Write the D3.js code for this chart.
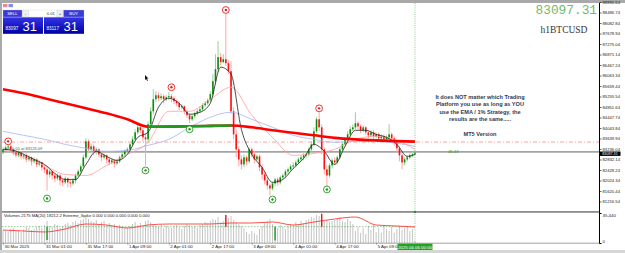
<!DOCTYPE html>
<html>
<head>
<meta charset="utf-8">
<script src="https://cdn.jsdelivr.net/npm/d3@7"></script>
<style>
body { margin: 0; background: #fff; }
svg { display: block; font-family: Arial, "Liberation Sans", sans-serif; }
</style>
</head>
<body>
<svg id="chart" width="625" height="253"></svg>
<script>
// H1 BTCUSD bars, 30 Mar 09:00 -> 6 Apr 00:00
var opens = [83106,83222,83299,83338,83222,83106,82991,83106,82952,82991,
  82836,82914,82759,82836,82644,82721,82528,82451,82258,82374,
  82219,82104,82219,82027,81950,82104,81950,81911,82027,82219,
  82374,82566,82914,83531,83222,83338,83145,83222,83029,82914,
  82991,82836,82721,82798,82682,82759,82914,83029,83145,83222,
  83415,83608,83877,84070,83955,83685,83608,84186,84687,85150,
  85304,85189,85266,85150,85227,85266,85189,85073,84996,84842,
  84880,84687,84533,84379,84495,84610,84687,84764,84919,84996,
  85111,85343,85844,86307,86770,86577,86692,86538,86230,84687,
  83800,83222,82836,82644,82914,82759,83222,83029,82836,82952,
  82528,82258,82027,81834,81718,81911,82065,81950,82142,82219,
  82374,82451,82566,82605,82721,82836,82914,82991,83029,83222,
  83415,83916,84379,84070,83222,82451,82219,82605,82798,82721,
  82914,83222,83415,83608,83800,83993,84070,84225,84109,83955,
  84070,83877,83762,83877,83723,83800,83646,83723,83608,83685,
  83800,83646,83492,83261,82991,82721,82836,82914,82991,83029];
var closes = [83222,83299,83338,83222,83106,82991,83106,82952,82991,82836,
  82914,82759,82836,82644,82721,82528,82451,82258,82374,82219,
  82104,82219,82027,81950,82104,81950,81911,82027,82219,82374,
  82566,82914,83531,83222,83338,83145,83222,83029,82914,82991,
  82836,82721,82798,82682,82759,82914,83029,83145,83222,83415,
  83608,83877,84070,83955,83685,83608,84186,84687,85150,85304,
  85189,85266,85150,85227,85266,85189,85073,84996,84842,84880,
  84687,84533,84379,84495,84610,84687,84764,84919,84996,85111,
  85343,85844,86307,86770,86577,86692,86538,86230,84687,83800,
  83222,82836,82644,82914,82759,83222,83029,82836,82952,82528,
  82258,82027,81834,81718,81911,82065,81950,82142,82219,82374,
  82451,82566,82605,82721,82836,82914,82991,83029,83222,83415,
  83916,84379,84070,83222,82451,82219,82605,82798,82721,82914,
  83222,83415,83608,83800,83993,84070,84225,84109,83955,84070,
  83877,83762,83877,83723,83800,83646,83723,83608,83685,83800,
  83646,83492,83261,82991,82721,82836,82914,82991,83029,83097];
var highs = [83299,83376,83415,83415,83261,83183,83183,83145,83068,83068,
  82991,82952,82914,82875,82798,82759,82605,82528,82451,82412,
  82297,82297,82258,82104,82181,82142,82027,82104,82297,82451,
  82644,83029,83646,83608,83453,83415,83299,83261,83106,83068,
  83029,82914,82875,82836,82836,82991,83106,83222,83299,83492,
  83723,83993,84147,84147,84032,83839,84302,84842,85536,85459,
  85420,85381,85343,85304,85420,85343,85266,85150,85073,84957,
  84919,84764,84610,84572,84687,84764,84880,84996,85073,85189,
  85459,86114,86885,87387,86924,86885,88428,86654,86615,84842,
  83993,83338,82991,83029,82991,83299,83299,83145,83029,83029,
  82644,82374,82142,81911,81988,82142,82142,82219,82297,82451,
  82528,82644,82721,82798,82914,82991,83068,83145,83299,83531,
  84070,84456,84649,84186,83299,82605,82682,82875,82914,82991,
  83299,83492,83685,83916,84109,84186,84649,84302,84186,84147,
  84109,83955,83955,83955,83877,83877,83800,83800,83762,84186,
  83877,83723,83569,83338,83068,82914,82991,83068,83106,83183];
var lows = [83029,83145,83183,83145,82991,82914,82914,82836,82836,82721,
  82759,82605,82682,82528,82566,82412,82297,81641,82142,82065,
  81950,82027,81834,81795,81872,81757,81757,81834,81911,82142,
  82258,82489,82836,83106,83145,82991,83029,82914,82759,82836,
  82682,82605,82644,82528,82605,82682,82836,82952,83068,83145,
  83338,83531,83800,83839,83531,82605,83531,84109,84572,85034,
  85073,85111,84996,85073,85111,85034,84957,84880,84726,84764,
  84572,84417,84225,84302,84417,84533,84610,84687,84842,84919,
  85034,85266,85728,86191,86461,86538,86423,86114,84572,83608,
  82914,82566,82451,82528,82605,82682,82914,82682,82759,82374,
  82065,81872,81680,81448,81641,81795,81834,81872,82065,82104,
  82258,82374,82451,82528,82644,82759,82798,82875,82952,83145,
  83338,83839,83916,83029,82258,81795,82142,82489,82605,82644,
  82836,83145,83338,83531,83723,83916,83993,83993,83839,83877,
  83762,83646,83685,83608,83646,83531,83569,83492,83531,83608,
  83531,83376,83106,82759,82451,82605,82759,82836,82914,82991];
var volumes = [15400,14200,13000,16500,17700,14200,15400,13000,16500,18900,17700,15400,16500,18900,20100,17700,
  21300,26000,20100,18900,22400,21300,17700,20100,22400,23600,21300,24800,26000,23600,27200,28400,
  30700,28400,26000,24800,27200,22400,24800,26000,21300,23600,20100,22400,18900,21300,20100,17700,
  18900,20100,22400,24800,21300,23600,20100,26000,27200,24800,22400,20100,18900,21300,17700,20100,
  18900,17700,20100,21300,18900,16500,20100,22400,21300,18900,20100,17700,21300,22400,24800,23600,
  26000,28400,27200,30700,24800,26000,33000,29500,31900,27200,24800,22400,20100,17700,13000,10600,
  14200,11800,9400,16500,20100,24800,26000,28400,22400,20100,17700,21300,18900,16500,20100,22400,
  21300,24800,22400,26000,23600,27200,28400,30700,29500,33000,31900,28400,26000,27200,24800,26000,
  27200,28400,30700,26000,24800,28400,26000,22400,14200,18900,11800,17700,10600,20100,15400,21300,
  13000,17700,12000,20100,16500,14200,18900,12000,16500,20100,15400,17700,19900,14200,16500,2175];

// moving averages, read every 8 bars (black one every 4)
var maIdx = [0,8,16,24,32,40,48,56,64,72,80,88,96,104,112,120,128,136,144,152,159];
var emaSlow = [85536,85381,85189,84996,84803,84610,84379,84090,84097,84109,84124,84140,84070,83955,83858,83762,83665,83608,83569,83538,83519];
var emaBlue = [83916,83762,83608,83415,83261,83145,83183,83376,83608,84070,84456,84649,84379,84070,83762,83608,83492,83531,83531,83453,83338];
var emaPink = [83222,82914,82605,82258,82219,82605,83029,83492,84687,84687,85150,85613,84533,83685,82991,83068,83222,83608,83723,83569,83222];
var fastIdx = [0,4,8,12,16,20,24,28,32,36,40,44,48,52,56,60,64,68,72,76,80,84,88,92,96,100,104,108,112,116,120,124,128,132,136,140,144,148,152,156,159];
var emaFast = [83222,83183,83029,82836,82644,82297,82065,82065,82644,83145,82952,82798,83029,83685,83877,84842,85189,84996,84572,84649,84996,86384,86114,83993,83029,82528,81950,82065,82489,82875,83415,83145,82644,83338,83955,83955,83800,83685,83415,82952,83029];
var volMA = [15357,14176,13000,16540,22445,21263,17720,21263,22445,22445,22445,23626,23626,24807,21263,24807,28351,30714,21263,20082,18901];

// signal circles
var sellIdx = [2, 65, 86, 122];
var sellPrice = [83531, 85613, 88582, 84800];
var buyIdx = [17, 55, 72, 104, 125];
var buyPrice = [81333, 82412, 83993, 81294, 81680];

// extreme volume spikes
var spikeIdx = [17, 86, 105, 123];
var spikeVal = [3500, 33000, 3000, 34500];
var spikeLevel = 19300;

var priceTicks = [88890.64,88486.74,88082.84,87678.94,87275.04,86871.14,86467.24,86063.34,85659.44,85255.54,
  84851.64,84447.74,84043.84,83639.94,83236.04,82832.14,82428.24,82024.34,81620.44,81216.54];
var timeIdx = [0,16,32,48,64,80,96,112,128,144];
var timeLabels = ["30 Mar 2025","31 Mar 01:00","31 Mar 17:00","1 Apr 09:00","2 Apr 01:00","2 Apr 17:00","3 Apr 09:00","4 Apr 01:00","4 Apr 17:00","5 Apr 09:00"];
var bid = 83097.31, linePrice = 83123.09, alertPrice = 83503;

var svg = d3.select("#chart");
var x = d3.scaleLinear().domain([0, 159]).range([3, 415]);
var y = d3.scaleLinear().domain([81216.54, 88890.64]).range([201.5, 2]);
var yv = d3.scaleLinear().domain([0, 35440]).range([243, 213]);

svg.append("defs").append("clipPath").attr("id", "mainClip")
  .append("rect").attr("x", 2).attr("y", 3).attr("width", 597).attr("height", 208);
var grad = svg.select("defs").append("linearGradient").attr("id", "blueGrad")
  .attr("x1", 0).attr("y1", 0).attr("x2", 0).attr("y2", 1);
grad.append("stop").attr("offset", "0").attr("stop-color", "#3434e8");
grad.append("stop").attr("offset", "1").attr("stop-color", "#0000a4");

var main = svg.append("g").attr("clip-path", "url(#mainClip)");

// level lines
main.append("line").attr("x1", 2).attr("x2", 599).attr("y1", y(alertPrice)).attr("y2", y(alertPrice))
  .attr("stroke", "#ff8a8a").attr("stroke-width", 0.8).attr("stroke-dasharray", "4,2,1,2");
main.append("line").attr("x1", 2).attr("x2", 599).attr("y1", y(linePrice)).attr("y2", y(linePrice))
  .attr("stroke", "#a4a4a4").attr("stroke-width", 1.8);
main.append("text").attr("x", 5).attr("y", y(linePrice) - 1.5).attr("font-size", 4).attr("fill", "#555")
  .text("sell 0.01 at 83123.09");
main.append("text").attr("x", 448).attr("y", y(linePrice) + 1.5).attr("font-size", 4.2).attr("fill", "#2a9a2a")
  .text("45.43");

// candles
var bars = d3.range(closes.length);
main.selectAll("line.wick").data(bars).enter().append("line").attr("class", "wick")
  .attr("x1", function (i) { return x(i); }).attr("x2", function (i) { return x(i); })
  .attr("y1", function (i) { return y(highs[i]); }).attr("y2", function (i) { return y(lows[i]); })
  .attr("stroke", function (i) { return closes[i] >= opens[i] ? "#93d493" : "#ffa6a6"; })
  .attr("stroke-width", 1);
main.selectAll("rect.body").data(bars).enter().append("rect").attr("class", "body")
  .attr("x", function (i) { return x(i) - 0.8; }).attr("width", 1.6)
  .attr("y", function (i) { return y(Math.max(opens[i], closes[i])); })
  .attr("height", function (i) { return Math.max(0.8, Math.abs(y(opens[i]) - y(closes[i]))); })
  .attr("fill", function (i) { return closes[i] >= opens[i] ? "#0e8a0e" : "#ff1010"; });

// moving average lines
function maLine(idx, vals) {
  return d3.line().x(function (d, k) { return x(idx[k]); }).y(function (d) { return y(d); })
    .curve(d3.curveMonotoneX)(vals);
}
main.append("path").attr("d", maLine(maIdx, emaBlue)).attr("fill", "none").attr("stroke", "#a6b4f0").attr("stroke-width", 0.8);
main.append("path").attr("d", maLine(maIdx, emaPink)).attr("fill", "none").attr("stroke", "#ff9c9c").attr("stroke-width", 0.8);
main.append("path").attr("d", maLine(fastIdx, emaFast)).attr("fill", "none").attr("stroke", "#222").attr("stroke-width", 0.8);

// slow ema: red when falling, green when rising
main.append("path").attr("d", maLine(maIdx, emaSlow)).attr("fill", "none").attr("stroke", "#ff0000").attr("stroke-width", 2.6);
var runs = [], cur = null;
for (var k = 1; k < emaSlow.length; k++) {
  if (emaSlow[k] > emaSlow[k - 1]) {
    if (!cur) { cur = [k - 1]; runs.push(cur); }
    cur.push(k);
  } else { cur = null; }
}
runs.forEach(function (r) {
  main.append("path").attr("d", maLine(r.map(function (k) { return maIdx[k]; }), r.map(function (k) { return emaSlow[k]; })))
    .attr("fill", "none").attr("stroke", "#1e9a1e").attr("stroke-width", 2.6);
});

// signal circles
function marks(idx, prices, col) {
  var g = main.append("g");
  g.selectAll("circle.o").data(idx).enter().append("circle")
    .attr("cx", function (d) { return x(d); }).attr("cy", function (d, k) { return y(prices[k]); })
    .attr("r", 3.4).attr("fill", "#fff").attr("stroke", col).attr("stroke-width", 0.9);
  g.selectAll("circle.i").data(idx).enter().append("circle")
    .attr("cx", function (d) { return x(d); }).attr("cy", function (d, k) { return y(prices[k]); })
    .attr("r", 1.2).attr("fill", col);
}
marks(sellIdx, sellPrice, "#e41e1e");
marks(buyIdx, buyPrice, "#1e9a1e");

// comment text
var note = ["It does NOT matter which Trading", "Platform you use as long as YOU", "use the EMA / 1% Strategy, the", "results are the same.....", "", "MT5 Version"];
svg.append("g").selectAll("text").data(note).enter().append("text")
  .attr("x", 480).attr("y", function (d, i) { return 99 + i * 7.3; })
  .attr("text-anchor", "middle").attr("font-size", 5.6).attr("font-weight", "bold").attr("fill", "#2e3a52")
  .text(function (d) { return d; });

// top right price & symbol
svg.append("text").attr("x", 597).attr("y", 13.5).attr("text-anchor", "end")
  .attr("font-family", "'Liberation Mono', 'DejaVu Sans Mono', monospace").attr("font-size", 12.8)
  .attr("fill", "#6cbc6c").text("83097.31");
svg.append("text").attr("x", 564).attr("y", 33).attr("text-anchor", "middle")
  .attr("font-family", "'Liberation Serif', 'DejaVu Serif', serif").attr("font-size", 9.5)
  .attr("fill", "#333").text("h1BTCUSD");

// mouse pointer
svg.append("path").attr("d", "M145,75 l0,5 l1.2,-1.1 l1,2 l0.7,-0.3 l-1,-2 l1.6,-0.1 z").attr("fill", "#111");

// volume sub window
var sub = svg.append("g");
sub.selectAll("line.vol").data(bars).enter().append("line").attr("class", "vol")
  .attr("x1", function (i) { return x(i); }).attr("x2", function (i) { return x(i); })
  .attr("y1", yv(0)).attr("y2", function (i) { return yv(volumes[i]); })
  .attr("stroke", "#c4c4c4").attr("stroke-width", 1);
sub.append("line").attr("x1", 2).attr("x2", 415).attr("y1", yv(spikeLevel)).attr("y2", yv(spikeLevel))
  .attr("stroke", "#4caa4c").attr("stroke-width", 0.6).attr("stroke-dasharray", "1.5,1.5");
sub.append("path").attr("d", d3.line().x(function (d, k) { return x(maIdx[k]); }).y(function (d) { return yv(d); })
  .curve(d3.curveMonotoneX)(volMA)).attr("fill", "none").attr("stroke", "#ff3a3a").attr("stroke-width", 0.9);
sub.selectAll("line.spike").data(spikeIdx).enter().append("line")
  .attr("x1", function (d) { return x(d); }).attr("x2", function (d) { return x(d); })
  .attr("y1", yv(spikeLevel)).attr("y2", function (d, k) { return yv(spikeVal[k]); })
  .attr("stroke", function (d, k) { return spikeVal[k] > spikeLevel ? "#e81818" : "#1e9a1e"; })
  .attr("stroke-width", 1.4);
sub.append("text").attr("x", 4).attr("y", 216.8).attr("font-size", 4.2).attr("fill", "#222")
  .text("Volumes 2175 MA(20) 18212.2 Extreme_Spike 0.000 0.000 0.000 0.000 0.000");

// frame and separators
svg.append("rect").attr("x", 0).attr("y", 0).attr("width", 625).attr("height", 3).attr("fill", "#a9a9a9");
svg.append("rect").attr("x", 0).attr("y", 0).attr("width", 2).attr("height", 253).attr("fill", "#a9a9a9");
svg.append("rect").attr("x", 0).attr("y", 250).attr("width", 625).attr("height", 3).attr("fill", "#d6d6d6");
svg.append("rect").attr("x", 2).attr("y", 211).attr("width", 597).attr("height", 1.8).attr("fill", "#8c8c8c");
svg.append("line").attr("x1", 2).attr("x2", 599.5).attr("y1", 243.2).attr("y2", 243.2).attr("stroke", "#8c8c8c").attr("stroke-width", 0.8);

// crosshair time line
svg.append("line").attr("x1", x(159)).attr("x2", x(159)).attr("y1", 3).attr("y2", 243)
  .attr("stroke", "#64b464").attr("stroke-width", 0.7).attr("stroke-dasharray", "1,1.2");
svg.append("circle").attr("cx", x(159)).attr("cy", 212).attr("r", 0.9).attr("fill", "#1d6e1d");

// price axis
svg.append("line").attr("x1", 599.5).attr("x2", 599.5).attr("y1", 3).attr("y2", 243.5).attr("stroke", "#000").attr("stroke-width", 1);
var pAxis = svg.append("g").attr("transform", "translate(599.5,0)")
  .call(d3.axisRight(y).tickValues(priceTicks).tickFormat(d3.format(".2f")).tickSize(2));
pAxis.select(".domain").remove();
pAxis.attr("font-size", 4.2).attr("font-family", "Arial, 'Liberation Sans', sans-serif");
pAxis.selectAll("text").attr("x", 3).attr("fill", "#222");
pAxis.selectAll("line").attr("stroke", "#000").attr("stroke-width", 0.6);
// bid label box, kept clear of the neighbouring tick labels
svg.append("rect").attr("x", 600).attr("y", y(bid) - 1.1).attr("width", 20.5).attr("height", 4.4).attr("fill", "#000");
svg.append("text").attr("x", 602.3).attr("y", y(bid) + 2.4).attr("font-size", 3.7).attr("fill", "#fff").text(d3.format(".2f")(bid));

// volume axis labels
var vAxis = svg.append("g").attr("transform", "translate(599.5,0)")
  .call(d3.axisRight(yv).tickValues([35440, 0]).tickSize(2));
vAxis.select(".domain").remove();
vAxis.attr("font-size", 4.4).attr("font-family", "Arial, 'Liberation Sans', sans-serif");
vAxis.selectAll("text").attr("x", 3).attr("fill", "#222");
vAxis.selectAll(".tick").filter(function (d) { return d === 35440; }).select("text").attr("dy", "0.9em");
vAxis.selectAll(".tick").filter(function (d) { return d === 0; }).select("text").attr("dy", "-0.1em");

// time axis
var tAxis = svg.append("g").attr("transform", "translate(0,243.2)")
  .call(d3.axisBottom(x).tickValues(timeIdx).tickFormat(function (d, i) { return timeLabels[i]; }).tickSize(1.5));
tAxis.select(".domain").remove();
tAxis.attr("font-size", 4.4).attr("font-family", "Arial, 'Liberation Sans', sans-serif");
tAxis.selectAll("text").attr("text-anchor", "start").attr("x", 1).attr("y", 5.2).attr("dy", 0).attr("fill", "#222");
tAxis.selectAll("line").attr("stroke", "#444").attr("stroke-width", 0.5);
svg.append("rect").attr("x", x(159) - 17.5).attr("y", 243.6).attr("width", 35).attr("height", 6.4).attr("fill", "#24a024");
svg.append("text").attr("x", x(159)).attr("y", 248.6).attr("text-anchor", "middle").attr("font-size", 4.4)
  .attr("fill", "#fff").text("2025.04.06 00:00");

// one click trading panel
var p = svg.append("g");
p.append("rect").attr("x", 3).attr("y", 4).attr("width", 4.5).attr("height", 3.2).attr("fill", "#e98b8b");
p.append("rect").attr("x", 8.5).attr("y", 4).attr("width", 4.5).attr("height", 3.2).attr("fill", "#8b8be9");
var btns = [
  { x: 3, w: 19, fill: "#3a3ad6", txt: "SELL", col: "#fff" },
  { x: 22.5, w: 6, fill: "#efefef", txt: "-", col: "#222" },
  { x: 28.5, w: 28.5, fill: "#fff", txt: "0.01", col: "#333" },
  { x: 57, w: 6, fill: "#efefef", txt: "+", col: "#222" },
  { x: 63.5, w: 20.5, fill: "#3a3ad6", txt: "BUY", col: "#fff" }
];
btns.forEach(function (b) {
  p.append("rect").attr("x", b.x).attr("y", 10).attr("width", b.w).attr("height", 7)
    .attr("fill", b.fill).attr("stroke", "#c8c8c8").attr("stroke-width", 0.3);
  p.append("text").attr("x", b.txt === "0.01" ? b.x + b.w - 2 : b.x + b.w / 2).attr("y", 15.2)
    .attr("text-anchor", b.txt === "0.01" ? "end" : "middle").attr("font-size", 4.3).attr("fill", b.col).text(b.txt);
});
[[3, "83097"], [44, "83117"]].forEach(function (q) {
  p.append("rect").attr("x", q[0]).attr("y", 17.3).attr("width", 40).attr("height", 16.5).attr("fill", "url(#blueGrad)");
  p.append("text").attr("x", q[0] + 2.5).attr("y", 29.6).attr("font-size", 4.6).attr("fill", "#fff").text(q[1]);
  p.append("text").attr("x", q[0] + 19.5).attr("y", 31.3).attr("font-size", 13).attr("fill", "#fff").text("31");
});
</script>
</body>
</html>
